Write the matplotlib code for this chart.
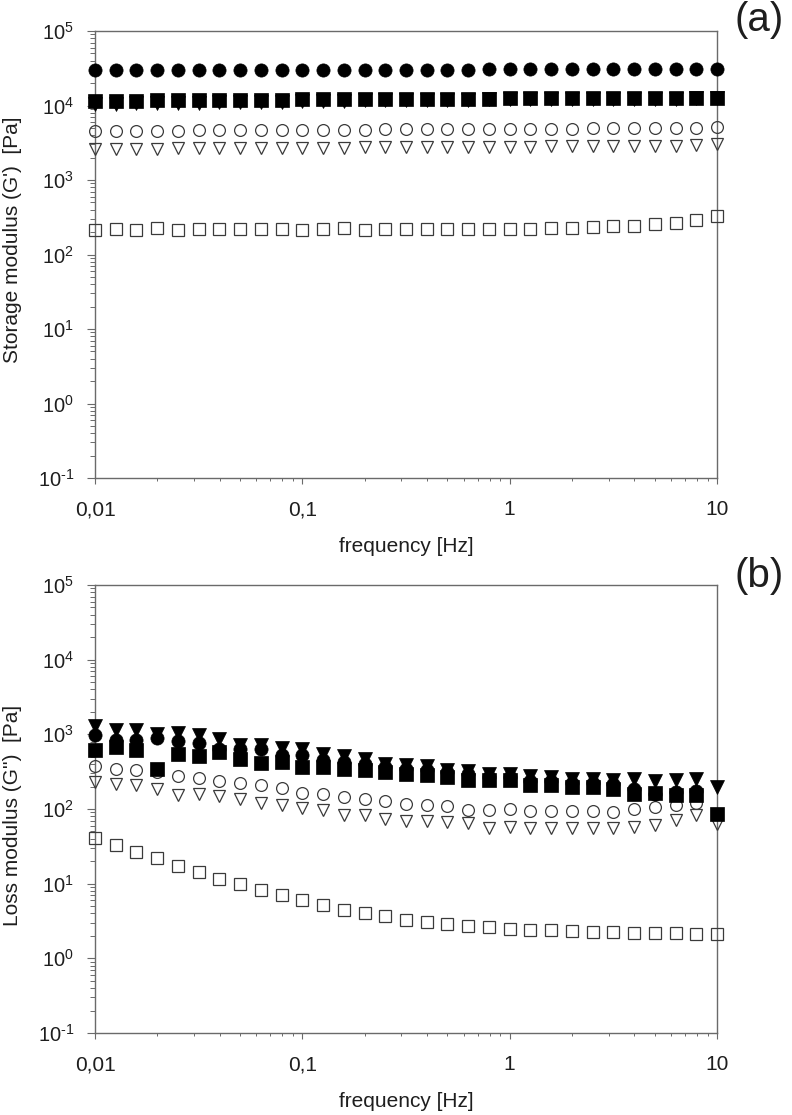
import matplotlib.pyplot as plt
from matplotlib.ticker import FixedLocator, FixedFormatter, LogLocator, NullFormatter

plt.rcParams['font.family'] = ['Liberation Sans', 'DejaVu Sans']
plt.rcParams['mathtext.fontset'] = 'custom'
plt.rcParams['mathtext.rm'] = 'Liberation Sans'
plt.rcParams['mathtext.it'] = 'Liberation Sans'

# frequency sweep, 10 points per decade
freq = [0.01, 0.0126, 0.0158, 0.02, 0.0251, 0.0316, 0.0398, 0.0501, 0.0631, 0.0794,
        0.1, 0.126, 0.158, 0.2, 0.251, 0.316, 0.398, 0.501, 0.631, 0.794,
        1, 1.26, 1.58, 2, 2.51, 3.16, 3.98, 5.01, 6.31, 7.94, 10]

# (a) storage modulus G' [Pa]
g1_circle_filled = [29800, 29900, 30000, 29900, 30000, 30000, 30100, 30000, 30100, 30100,
                    30200, 30200, 30200, 30300, 30300, 30300, 30400, 30400, 30400, 30500,
                    30500, 30500, 30600, 30600, 30700, 30700, 30800, 30800, 30900, 31000, 31000]
g1_square_filled = [11400, 11500, 11600, 11800, 11700, 11800, 11900, 12000, 12000, 12000,
                    12100, 12200, 12200, 12200, 12300, 12300, 12300, 12400, 12400, 12400,
                    12500, 12500, 12500, 12600, 12600, 12600, 12700, 12700, 12700, 12800, 12800]
g1_tri_filled = [10600, 10600, 10700, 10900, 10800, 10900, 11000, 11200, 11200, 11300,
                 11400, 11500, 11600, 11700, 11800, 11800, 11900, 12000, 12000, 12100,
                 12200, 12200, 12200, 12300, 12300, 12300, 12400, 12400, 12400, 12500, 12500]
g1_circle_open = [4550, 4550, 4600, 4600, 4600, 4620, 4650, 4650, 4680, 4700,
                  4700, 4720, 4750, 4750, 4770, 4780, 4800, 4800, 4820, 4850,
                  4850, 4870, 4880, 4900, 4920, 4940, 4960, 4980, 5000, 5050, 5150]
g1_tri_open = [2600, 2620, 2620, 2640, 2650, 2660, 2660, 2680, 2690, 2700,
               2710, 2720, 2730, 2740, 2750, 2750, 2760, 2770, 2780, 2790,
               2800, 2810, 2820, 2830, 2840, 2850, 2860, 2880, 2900, 2920, 3000]
g1_square_open = [215, 222, 214, 224, 212, 218, 219, 219, 222, 217,
                  216, 222, 226, 215, 220, 218, 222, 219, 222, 221,
                  220, 222, 224, 228, 232, 238, 245, 255, 268, 288, 330]

# (b) loss modulus G'' [Pa]
g2_tri_filled = [1290, 1130, 1130, 1020, 1030, 970, 875, 713, 713, 665,
                 645, 550, 513, 472, 405, 385, 373, 337, 323, 298,
                 298, 274, 268, 255, 254, 247, 250, 240, 245, 255, 197]
g2_circle_filled = [970, 830, 830, 893, 806, 765, 645, 645, 630, 523,
                    523, 450, 426, 405, 365, 347, 330, 313, 295, 268,
                    265, 240, 235, 225, 222, 215, 188, 160, 167, 173]
g2_square_filled = [624, 676, 610, 347, 551, 513, 579, 472, 413, 422,
                    365, 365, 347, 330, 313, 290, 288, 265, 247, 241,
                    241, 207, 207, 197, 197, 188, 160, 165, 153, 153, 87]
g2_circle_open = [373, 347, 337, 313, 277, 260, 235, 223, 207, 191,
                  166, 160, 145, 135, 127, 116, 112, 110, 98, 98,
                  101, 93, 93, 93, 93, 91, 99, 107, 112, 121]
g2_tri_open = [230, 214, 207, 188, 153, 158, 148, 138, 121, 114,
               104, 96, 84, 82, 74, 70, 69, 66, 65, 55,
               57, 55, 55, 55, 55, 55, 58, 62, 71, 82, 63]
g2_square_open = [40.9, 32.6, 26.6, 22.1, 17.4, 14.3, 11.7, 9.9, 8.1, 6.97,
                  5.98, 5.13, 4.5, 4.05, 3.66, 3.3, 3.07, 2.91, 2.74, 2.6,
                  2.5, 2.42, 2.38, 2.3, 2.25, 2.22, 2.18, 2.18, 2.17, 2.14, 2.14]

y_ticks = [0.1, 1, 10, 100, 1000, 10000, 100000]
y_tick_labels = [r'$10^{\text{-}1}$', '$10^{0}$', '$10^{1}$', '$10^{2}$',
                 '$10^{3}$', '$10^{4}$', '$10^{5}$']
x_ticks = [0.01, 0.1, 1, 10]
x_tick_labels = ['0,01', '0,1', '1', '10']

GRAY = '#6a6a6a'
EDGE = '#3a3a3a'
TXT = '#1e1e1e'


def open_pts(ax, x, y, marker, ms):
    ax.plot(x[:len(y)], y, linestyle='none', marker=marker, ms=ms, mfc='none',
            mec=EDGE, mew=0.9, clip_on=False, zorder=3)


def filled_pts(ax, x, y, marker, ms):
    ax.plot(x[:len(y)], y, linestyle='none', marker=marker, ms=ms, mfc='black',
            mec='black', mew=0.5, clip_on=False, zorder=4)


def style(ax):
    ax.set_xscale('log')
    ax.set_yscale('log')
    ax.set_xlim(0.01, 10)
    ax.set_ylim(0.1, 1e5)
    for sp in ax.spines.values():
        sp.set_color(GRAY)
        sp.set_linewidth(1.0)
    ax.xaxis.set_major_locator(FixedLocator(x_ticks))
    ax.xaxis.set_major_formatter(FixedFormatter(x_tick_labels))
    ax.xaxis.set_minor_locator(LogLocator(base=10, subs=range(2, 10), numticks=20))
    ax.xaxis.set_minor_formatter(NullFormatter())
    ax.yaxis.set_major_locator(FixedLocator(y_ticks))
    ax.yaxis.set_major_formatter(FixedFormatter(y_tick_labels))
    ax.yaxis.set_minor_locator(LogLocator(base=10, subs=range(2, 10), numticks=20))
    ax.yaxis.set_minor_formatter(NullFormatter())
    ax.tick_params(axis='x', which='major', direction='out', length=4, width=0.8,
                   color=GRAY, labelsize=15, labelcolor=TXT, pad=12)
    ax.tick_params(axis='x', which='minor', direction='out', length=2.5, width=0.7, color=GRAY)
    ax.tick_params(axis='y', which='major', direction='out', length=6, width=0.8,
                   color=GRAY, labelsize=14.5, labelcolor=TXT, pad=9)
    ax.tick_params(axis='y', which='minor', direction='out', length=3.5, width=0.7, color=GRAY)
    ax.set_xlabel('frequency [Hz]', fontsize=15, labelpad=13, color=TXT)


fig = plt.figure(figsize=(7.92, 11.15), dpi=100)
ax1 = fig.add_axes([95 / 792, 1 - 478 / 1115, 622 / 792, 447 / 1115])
ax2 = fig.add_axes([95 / 792, 1 - 1033 / 1115, 622 / 792, 448 / 1115])

# panel (a)
open_pts(ax1, freq, g1_square_open, 's', 8)
open_pts(ax1, freq, g1_tri_open, 'v', 9)
open_pts(ax1, freq, g1_circle_open, 'o', 8.5)
filled_pts(ax1, freq, g1_tri_filled, 'v', 9.5)
filled_pts(ax1, freq, g1_square_filled, 's', 9.5)
filled_pts(ax1, freq, g1_circle_filled, 'o', 9.5)
style(ax1)

# panel (b)
open_pts(ax2, freq, g2_square_open, 's', 8)
open_pts(ax2, freq, g2_tri_open, 'v', 9)
open_pts(ax2, freq, g2_circle_open, 'o', 8.5)
filled_pts(ax2, freq, g2_square_filled, 's', 9.5)
filled_pts(ax2, freq, g2_circle_filled, 'o', 9.5)
filled_pts(ax2, freq, g2_tri_filled, 'v', 9.5)
style(ax2)

fig.text(13 / 792, 1 - 240 / 1115, "Storage modulus (G')  [Pa]", rotation=90,
         ha='center', va='center', fontsize=15, color=TXT)
fig.text(13 / 792, 1 - 815 / 1115, "Loss modulus (G'')  [Pa]", rotation=90,
         ha='center', va='center', fontsize=15, color=TXT)

fig.text(759 / 792, 1 - 20 / 1115, '(a)', ha='center', va='center', fontsize=29, color=TXT)
fig.text(759 / 792, 1 - 576 / 1115, '(b)', ha='center', va='center', fontsize=29, color=TXT)

fig.savefig('out.png', dpi=100)
